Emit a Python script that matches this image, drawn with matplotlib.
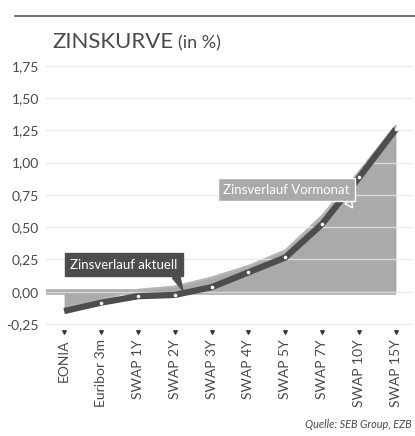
import matplotlib
matplotlib.use("Agg")
from matplotlib import pyplot as plt

plt.rcParams['font.family'] = ['Lato', 'DejaVu Sans']

# data
categories = ["EONIA", "Euribor 3m", "SWAP 1Y", "SWAP 2Y", "SWAP 3Y",
              "SWAP 4Y", "SWAP 5Y", "SWAP 7Y", "SWAP 10Y", "SWAP 15Y"]
current = [-0.15, -0.085, -0.035, -0.025, 0.035, 0.15, 0.265, 0.525, 0.885, 1.26]
previous = [-0.13, -0.06, 0.015, 0.04, 0.11, 0.20, 0.32, 0.59, 0.93, 1.29]
yticks = [-0.25, 0.0, 0.25, 0.5, 0.75, 1.0, 1.25, 1.5, 1.75]

dark = "#4d4d4f"
area = "#a9aaac"
grid = "#e6e6e6"
text = "#4a4a4a"

fig = plt.figure(figsize=(4.15, 4.36), dpi=100)
ax = fig.add_axes([0.111, 0.251, 0.884, 0.607])
x = list(range(len(categories)))

# previous month as filled area
ax.fill_between(x, 0, previous, color=area, lw=0, zorder=1)
ax.plot(x, previous, color="#b4b5b7", lw=1.5, zorder=1.5, solid_capstyle="butt")
ax.plot([-0.49, x[-1]], [0, 0], color=area, lw=4, zorder=1.2, solid_capstyle="butt")

# gridlines on top of the area
for t in yticks:
    ax.axhline(t, color=grid, lw=1, zorder=2, alpha=0.8)

# current curve
ax.plot(x, current, color=dark, lw=4.5, zorder=3, solid_capstyle="butt")
ax.plot(x[1:], current[1:], "o", color="white", ms=2.6, mew=0, zorder=4)

ax.set_xlim(-0.49, 9.46)
ax.set_ylim(-0.27, 1.78)
for s in ax.spines.values():
    s.set_visible(False)

ax.set_yticks(yticks)
ax.set_yticklabels([f"{t:.2f}".replace(".", ",") for t in yticks],
                   fontsize=10, color=text)
ax.tick_params(axis="y", length=0, pad=5)
ax.set_xticks(x)
ax.set_xticklabels(categories, rotation=90, fontsize=10, color=text, va="top")
ax.tick_params(axis="x", length=0, pad=9)
ax.scatter(x, [-0.02] * len(x), marker="v", s=6, color="#333333",
           transform=ax.get_xaxis_transform(), clip_on=False, zorder=5)

# labels with pointers
ax.annotate("Zinsverlauf aktuell", xy=(3.22, 0.01), xytext=(1.62, 0.21),
            ha="center", va="center", fontsize=9.5, color="white", zorder=6,
            bbox=dict(boxstyle="square,pad=0.4", fc=dark, ec=dark),
            arrowprops=dict(arrowstyle="wedge,tail_width=0.6,shrink_factor=0.5",
                            fc=dark, ec=dark, relpos=(0.96, 0.0), shrinkA=0, shrinkB=0))
ax.annotate("Zinsverlauf Vormonat", xy=(7.82, 0.65), xytext=(6.02, 0.79),
            ha="center", va="center", fontsize=9.5, color="white", zorder=6,
            bbox=dict(boxstyle="square,pad=0.4", fc=area, ec="white", lw=1),
            arrowprops=dict(arrowstyle="wedge,tail_width=0.6,shrink_factor=0.5",
                            fc=area, ec="white", lw=1, relpos=(0.96, 0.0),
                            shrinkA=0, shrinkB=0))

# title, rule and source
fig.add_artist(plt.Line2D([15 / 415, 1.0], [1 - 16 / 436] * 2, color="#555555", lw=1.2))
t1 = fig.text(52 / 415, 1 - 48 / 436, "ZINSKURVE", fontsize=16, color=text, va="baseline")
fig.canvas.draw()
bb = t1.get_window_extent()
fig.text((bb.x1 + 5) / 415, 1 - 48 / 436, "(in %)", fontsize=13, color=text, va="baseline")
fig.text(0.993, 1 - 428 / 436, "Quelle: SEB Group, EZB", fontsize=7.8, style="italic",
         color=text, ha="right", va="baseline")

fig.savefig("out.png", dpi=100)
